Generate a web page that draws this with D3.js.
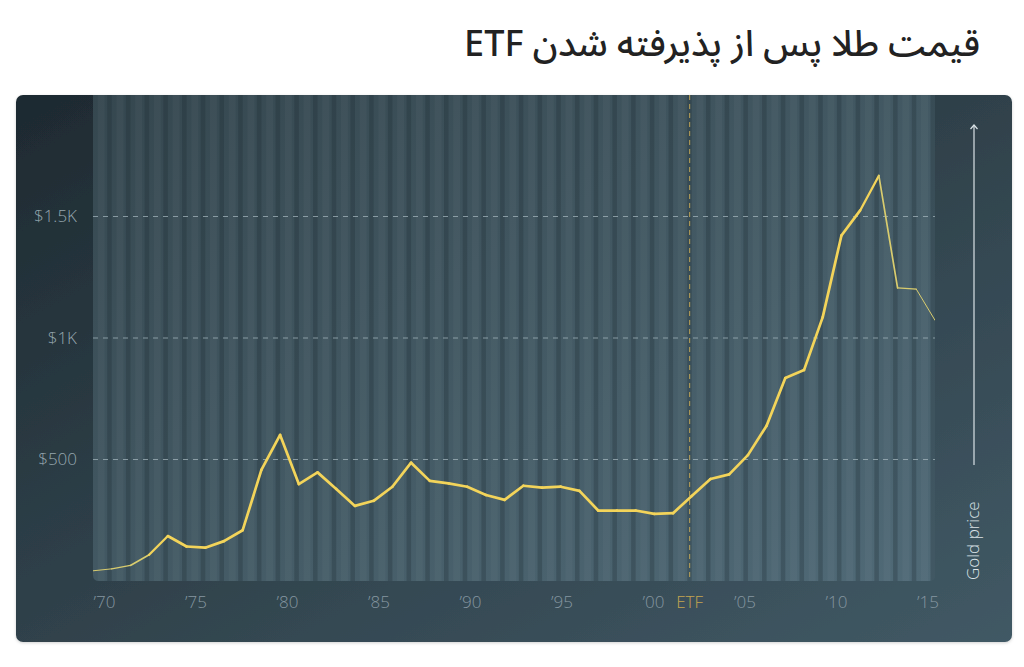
<!DOCTYPE html>
<html>
<head>
<meta charset="utf-8">
<script src="https://cdn.jsdelivr.net/npm/d3@7/dist/d3.min.js"></script>
<style>
  html, body { margin: 0; padding: 0; background: #ffffff; }
  svg { display: block; }
</style>
</head>
<body>
<svg id="chart" width="1024" height="667"></svg>
<script>
// ---- data ----
const titleText = "قیمت طلا پس از پذیرفته شدن ETF";
const years = [1970,1971,1972,1973,1974,1975,1976,1977,1978,1979,
               1980,1981,1982,1983,1984,1985,1986,1987,1988,1989,
               1990,1991,1992,1993,1994,1995,1996,1997,1998,1999,
               2000,2001,2002,2003,2004,2005,2006,2007,2008,2009,
               2010,2011,2012,2013,2014,2015];
const prices = [42,50,64,108,185,142,137,164,209,457,
                601,399,447,379,309,330,388,487,412,402,
                388,354,334,392,384,388,371,290,290,290,
                276,279,350,420,439,518,639,835,868,1086,
                1422,1525,1668,1206,1201,1073];
const xTickYears = [1970,1975,1980,1985,1990,1995,2000,2005,2010,2015];
const xTickLabels = ["’70","’75","’80","’85","’90","’95","’00","’05","’10","’15"];
const etfYear = 2002;
const etfLabel = "ETF";
const yTickValues = [500, 1000, 1500];
const yTickLabels = ["$500", "$1K", "$1.5K"];
const yMax = 2000;
const sideLabel = "Gold price";

// ---- layout ----
const svg = d3.select("#chart");
const card = {x: 16, y: 95, w: 996, h: 547, r: 7};
const plot = {left: 93, right: 935, top: 95, bottom: 581};

const x = d3.scaleLinear().domain([years[0], years[years.length-1]]).range([plot.left, plot.right]);
const xLab = d3.scaleLinear().domain([xTickYears[0], xTickYears[xTickYears.length-1]]).range([plot.left + 11, plot.right - 7.5]);
const y = d3.scaleLinear().domain([0, yMax]).range([plot.bottom, plot.top]);

const defs = svg.append("defs");
const gCard = defs.append("linearGradient").attr("id","cardGrad").attr("x1","0").attr("y1","0").attr("x2","1").attr("y2","1");
gCard.append("stop").attr("offset","0%").attr("stop-color","#1e2a31");
gCard.append("stop").attr("offset","100%").attr("stop-color","#415965");
const gPlot = defs.append("linearGradient").attr("id","plotGrad").attr("x1","0").attr("y1","0").attr("x2","1").attr("y2","1");
gPlot.append("stop").attr("offset","0%").attr("stop-color","#35474f");
gPlot.append("stop").attr("offset","100%").attr("stop-color","#506a77");
const shadow = defs.append("filter").attr("id","shadow").attr("x","-5%").attr("y","-5%").attr("width","110%").attr("height","115%");
shadow.append("feDropShadow").attr("dx",0).attr("dy",1).attr("stdDeviation",1.5).attr("flood-color","#000").attr("flood-opacity",0.18);

// title
svg.append("text")
  .attr("x", 980).attr("y", 56)
  .attr("direction", "rtl")
  .attr("text-anchor", "start")
  .attr("font-family", "'Noto Sans Arabic', 'DejaVu Sans', sans-serif")
  .attr("font-size", 36)
  .attr("font-weight", 500)
  .attr("fill", "#222222")
  .text(titleText);

// card
svg.append("rect")
  .attr("x", card.x).attr("y", card.y).attr("width", card.w).attr("height", card.h)
  .attr("rx", card.r).attr("fill", "url(#cardGrad)").attr("filter","url(#shadow)");

// plot background with rounded bottom corners
const pr = 6;
const plotPath = `M${plot.left},${plot.top} H${plot.right} V${plot.bottom-pr} Q${plot.right},${plot.bottom} ${plot.right-pr},${plot.bottom} H${plot.left+pr} Q${plot.left},${plot.bottom} ${plot.left},${plot.bottom-pr} Z`;
defs.append("clipPath").attr("id","plotClip").append("path").attr("d", plotPath);
svg.append("path").attr("d", plotPath).attr("fill", "url(#plotGrad)");

// stripes
const stripes = svg.append("g").attr("clip-path","url(#plotClip)");
stripes.selectAll("rect.s").data(years.slice(1)).join("rect")
  .attr("class","s")
  .attr("x", d => x(d) - 4.5)
  .attr("y", plot.top)
  .attr("width", 4.5)
  .attr("height", plot.bottom - plot.top)
  .attr("fill", "#1b2a31")
  .attr("opacity", 0.28);
stripes.selectAll("rect.h").data(years.slice(1)).join("rect")
  .attr("class","h")
  .attr("x", d => x(d) - 14)
  .attr("y", plot.top)
  .attr("width", 7)
  .attr("height", plot.bottom - plot.top)
  .attr("fill", "#ffffff")
  .attr("opacity", 0.03);

// grid lines
svg.append("g").selectAll("line").data(yTickValues).join("line")
  .attr("x1", plot.left).attr("x2", plot.right)
  .attr("y1", d => y(d)).attr("y2", d => y(d))
  .attr("stroke", "#a9bbc2").attr("stroke-opacity", 0.7)
  .attr("stroke-width", 1).attr("stroke-dasharray", "5,5");

// y axis
const yAxis = d3.axisLeft(y).tickValues(yTickValues)
  .tickFormat((d,i) => yTickLabels[i]).tickSize(0).tickPadding(0);
const yg = svg.append("g").attr("transform", `translate(${plot.left - 16},0)`).call(yAxis);
yg.select(".domain").remove();
yg.selectAll("text")
  .attr("fill", "#95a6ae")
  .attr("font-family", "'Open Sans', sans-serif")
  .attr("font-weight", 300)
  .attr("font-size", 17);

// x axis
const xAxis = d3.axisBottom(xLab).tickValues(xTickYears)
  .tickFormat((d,i) => xTickLabels[i]).tickSize(0).tickPadding(0);
const xg = svg.append("g").attr("transform", `translate(0,${plot.bottom + 15})`).call(xAxis);
xg.select(".domain").remove();
xg.selectAll("text")
  .attr("fill", "#8596a0")
  .attr("font-family", "'Open Sans', sans-serif")
  .attr("font-weight", 300)
  .attr("font-size", 17);

// ETF marker
svg.append("line")
  .attr("x1", xLab(etfYear)).attr("x2", xLab(etfYear))
  .attr("y1", plot.top).attr("y2", plot.bottom)
  .attr("stroke", "#c2a656").attr("stroke-opacity", 0.8).attr("stroke-width", 1.2).attr("stroke-dasharray", "5,4");
svg.append("text")
  .attr("x", xLab(etfYear)).attr("y", plot.bottom + 15).attr("dy", "0.71em")
  .attr("text-anchor", "middle")
  .attr("fill", "#c4a550")
  .attr("font-family", "'Open Sans', sans-serif")
  .attr("font-weight", 300)
  .attr("font-size", 17)
  .text(etfLabel);

// price line, drawn segment by segment so ends taper
const pts = years.map((yr, i) => [x(yr), y(prices[i])]);
const n = pts.length - 1;
const segW = i => {
  const e = Math.min(i, n - 1 - i);
  return [1, 1.3, 1.7, 2.3][e] || 2.7;
};
const segC = i => {
  const e = Math.min(i, n - 1 - i);
  return e < 3 ? "#d9cc6e" : "#f3d45a";
};
const lineGen = d3.line();
svg.append("g").attr("clip-path","url(#plotClip)")
  .selectAll("path").data(d3.range(n)).join("path")
  .attr("d", i => lineGen([pts[i], pts[i+1]]))
  .attr("fill", "none")
  .attr("stroke", segC)
  .attr("stroke-width", segW)
  .attr("stroke-linecap", "round")
  .attr("stroke-linejoin", "round");

// side arrow + label
const ax = 974;
svg.append("line").attr("x1", ax).attr("x2", ax).attr("y1", 125).attr("y2", 465)
  .attr("stroke", "#dbe3e7").attr("stroke-width", 1.2);
svg.append("path").attr("d", `M${ax-3.5},${129} L${ax},${125} L${ax+3.5},${129}`)
  .attr("fill", "none").attr("stroke", "#dbe3e7").attr("stroke-width", 1.2);
svg.append("text")
  .attr("transform", `translate(979,580) rotate(-90)`)
  .attr("text-anchor", "start")
  .attr("fill", "#dbe3e7")
  .attr("font-family", "'Open Sans', sans-serif")
  .attr("font-weight", 300)
  .attr("font-size", 17)
  .text(sideLabel);
</script>
</body>
</html>
